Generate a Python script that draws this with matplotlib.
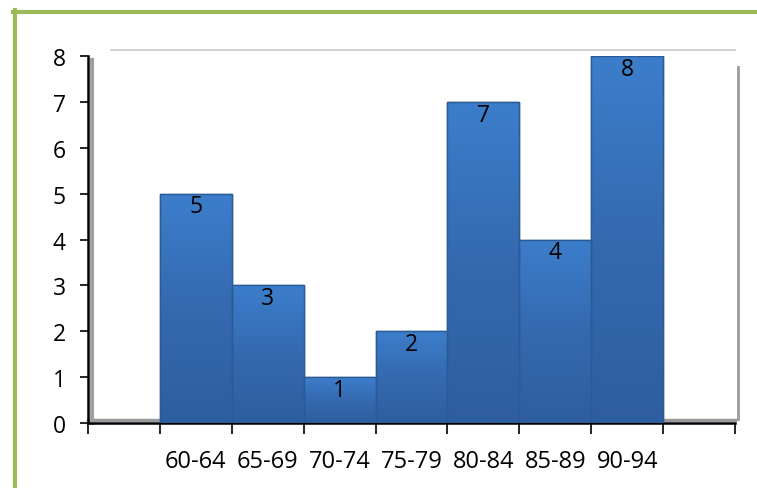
import numpy as np
import matplotlib
matplotlib.use("Agg")
import matplotlib.pyplot as plt
from matplotlib.lines import Line2D

# Score ranges and how many students fall in each
categories = ["", "60-64", "65-69", "70-74", "75-79", "80-84", "85-89", "90-94", ""]
counts = [0, 5, 3, 1, 2, 7, 4, 8, 0]
yticks = [0, 1, 2, 3, 4, 5, 6, 7, 8]

plt.rcParams["font.family"] = ["Open Sans", "DejaVu Sans"]

fig = plt.figure(figsize=(7.57, 4.89), dpi=100)
ax = fig.add_axes([0.1163, 0.1329, 0.8547, 0.7505])

x = np.arange(len(categories))
bars = ax.bar(x, counts, width=1.0, color="#3874C0", edgecolor="#2B5A94",
              linewidth=1.0, zorder=3)

# vertical shading inside each bar: lighter at the top, darker at the bottom
grad = np.linspace(0, 1, 256).reshape(-1, 1)
cmap = matplotlib.colors.LinearSegmentedColormap.from_list(
    "barshade", ["#2E5E9F", "#3569B0", "#3C7ECB"])
for b, v in zip(bars, counts):
    if v <= 0:
        continue
    x0, w = b.get_x(), b.get_width()
    im = ax.imshow(grad, extent=(x0, x0 + w, 0, v), origin="lower",
                   cmap=cmap, aspect="auto", zorder=3.5, interpolation="bilinear")
    im.set_clip_path(b)
    ax.add_patch(matplotlib.patches.Rectangle((x0, 0), w, v, fill=False,
                                              edgecolor="#2B5A94", lw=1.0,
                                              zorder=3.6))
    ax.annotate(str(v), (x0 + w / 2, v), xytext=(0, -0.5),
                textcoords="offset points", ha="center", va="top",
                fontsize=16.5, color="black", zorder=5)

ax.set_xlim(-0.5, len(categories) - 0.5)
ax.set_ylim(0, 8)
ax.set_yticks(yticks)
ax.set_yticklabels([str(t) for t in yticks], fontsize=16.5)

# category labels centred in slots, tick marks on slot boundaries
ax.set_xticks(np.arange(-0.5, len(categories), 1.0))
ax.set_xticklabels([])
ax.set_xticks(x, minor=True)
ax.set_xticklabels(categories, minor=True, fontsize=17)
ax.tick_params(axis="x", which="minor", length=0, pad=19)
ax.tick_params(axis="x", which="major", length=8, width=1.2, direction="out",
               color="black")
ax.tick_params(axis="y", length=6, width=1.2, direction="out", pad=10)

for s in ["top", "right"]:
    ax.spines[s].set_visible(False)
ax.spines["left"].set_linewidth(1.8)
ax.spines["bottom"].set_linewidth(1.8)
ax.set_facecolor("none")

# back wall / floor outline in grey
tr = ax.transAxes
wall = dict(transform=tr, clip_on=False, zorder=1)
ax.add_line(Line2D([0.036, 1.0], [1.016, 1.016], color="#C8C8C8", lw=1.2, **wall))
ax.add_line(Line2D([1.004, 1.004], [0.01, 0.97], color="#9A9A9A", lw=2.0, **wall))
ax.add_line(Line2D([0.0, 1.0], [0.008, 0.008], color="#9A9A9A", lw=2.5, **wall))
ax.add_line(Line2D([0.006, 0.006], [0.0, 0.99], color="#A0A0A0", lw=3.0, **wall))

# green frame on the left and top edges
fig.add_artist(Line2D([15 / 757, 15 / 757], [0, 1 - 11 / 489],
                      transform=fig.transFigure, color="#9BBB59", lw=3.0))
fig.add_artist(Line2D([13 / 757, 1], [1 - 12.5 / 489, 1 - 12.5 / 489],
                      transform=fig.transFigure, color="#9BBB59", lw=3.0))

fig.savefig("out.png", dpi=100)
